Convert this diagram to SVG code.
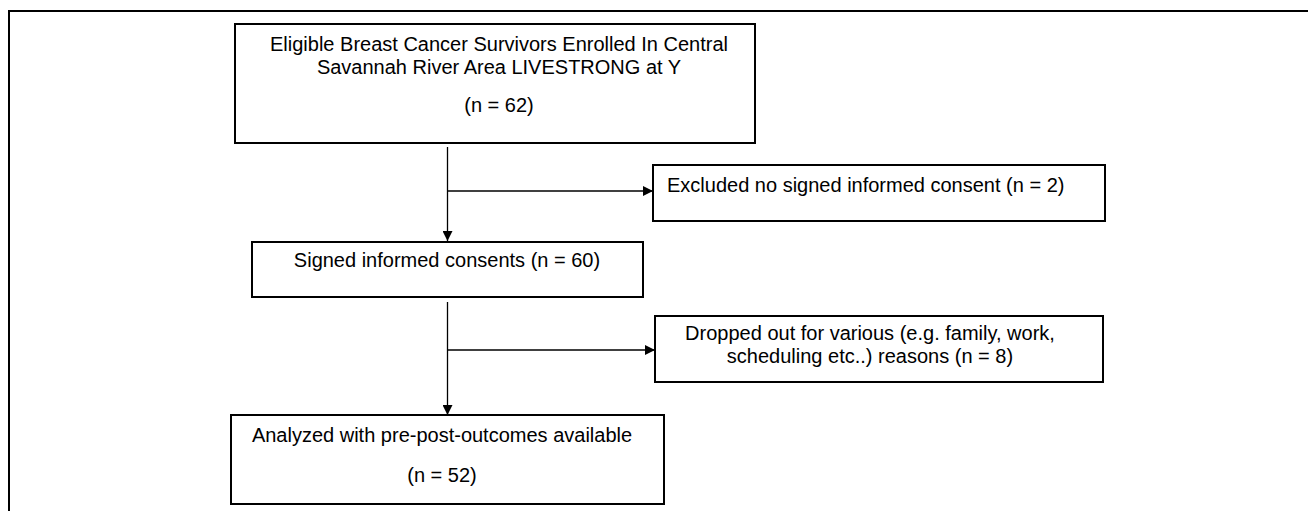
<svg xmlns="http://www.w3.org/2000/svg" width="1308" height="511" viewBox="0 0 1308 511">
<style>
.box{fill:#fff;stroke:#000;stroke-width:2}
.t{font-family:"Liberation Sans",Arial,sans-serif;font-size:20px;fill:#000}
.m{text-anchor:middle}
.c{fill:none;stroke:#000;stroke-width:1.3}
</style>
<defs>
<marker id="ah" markerWidth="10" markerHeight="10" refX="10" refY="5" orient="auto" markerUnits="userSpaceOnUse">
<path d="M0,0 L10,5 L0,10 Z" fill="#000"/>
</marker>
</defs>
<rect width="1308" height="511" fill="#fff"/>
<polyline points="9,511 9,11 1308,11" fill="none" stroke="#000" stroke-width="2"/>
<g id="connectors">
<line class="c" x1="447.5" y1="147" x2="447.5" y2="241" marker-end="url(#ah)"/>
<line class="c" x1="447.5" y1="191" x2="653" y2="191" marker-end="url(#ah)"/>
<line class="c" x1="447.5" y1="302" x2="447.5" y2="415" marker-end="url(#ah)"/>
<line class="c" x1="447.5" y1="350" x2="655" y2="350" marker-end="url(#ah)"/>
</g>
<g id="eligible">
<rect class="box" x="235" y="24" width="520" height="119"/>
<text class="t m" x="499" y="51">Eligible Breast Cancer Survivors Enrolled In Central</text>
<text class="t m" x="499" y="74">Savannah River Area LIVESTRONG at Y</text>
<text class="t m" x="499" y="112">(n = 62)</text>
</g>
<g id="excluded">
<rect class="box" x="653" y="165" width="452" height="56"/>
<text class="t" x="667" y="192">Excluded no signed informed consent (n = 2)</text>
</g>
<g id="signed">
<rect class="box" x="252" y="242" width="391" height="55"/>
<text class="t m" x="447" y="267">Signed informed consents (n = 60)</text>
</g>
<g id="dropped">
<rect class="box" x="655" y="316" width="448" height="66"/>
<text class="t m" x="870" y="340">Dropped out for various (e.g. family, work,</text>
<text class="t m" x="870" y="363">scheduling etc..) reasons (n = 8)</text>
</g>
<g id="analyzed">
<rect class="box" x="231" y="415" width="433" height="89"/>
<text class="t m" x="442" y="442">Analyzed with pre-post-outcomes available</text>
<text class="t m" x="442" y="482">(n = 52)</text>
</g>
</svg>
